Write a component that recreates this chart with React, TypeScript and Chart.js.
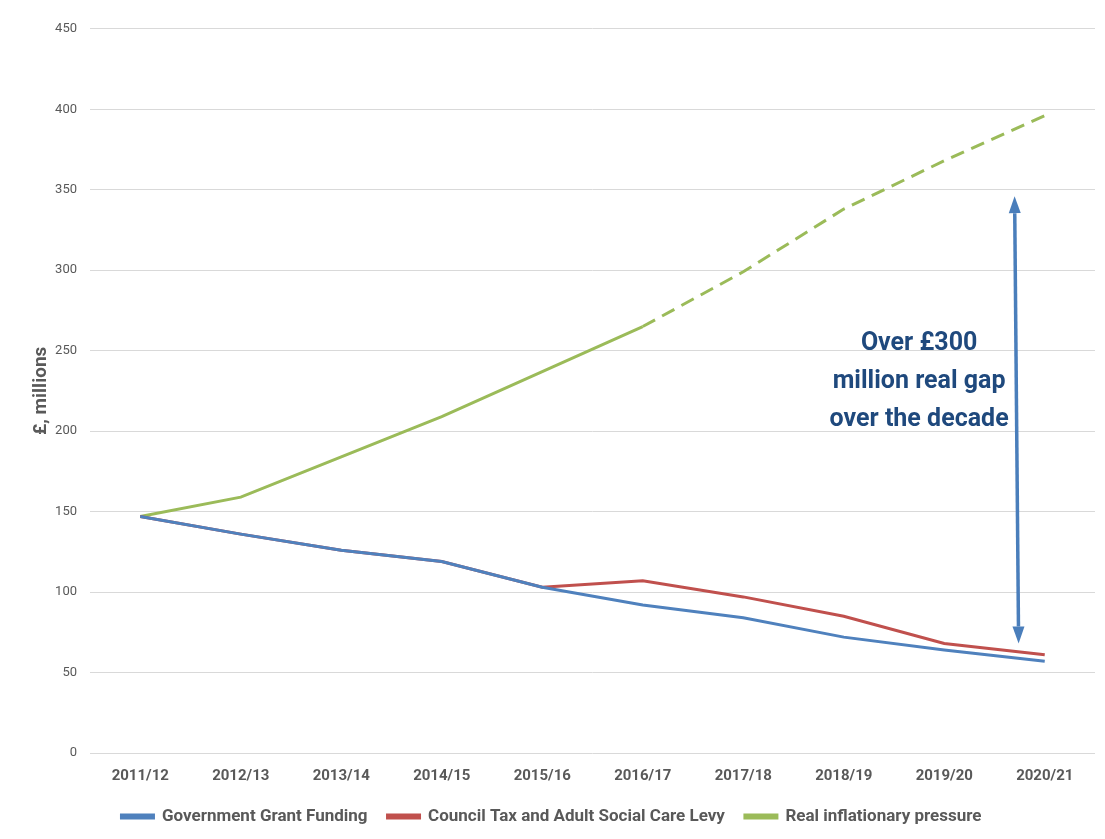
import React, { useEffect, useRef } from "react";
import { Chart, registerables } from "chart.js";

Chart.register(...registerables);

const categories = ["2011/12", "2012/13", "2013/14", "2014/15", "2015/16", "2016/17", "2017/18", "2018/19", "2019/20", "2020/21"];
const grantFunding = [147, 136, 126, 119, 103, 92, 84, 72, 64, 57];
const councilTax = [147, 136, 126, 119, 103, 107, 97, 85, 68, 61];
const inflationPressure = [147, 159, 184, 209, 237, 265, 299, 338, 368, 396];
const dashedFromIndex = 5;
const yTicks = [0, 50, 100, 150, 200, 250, 300, 350, 400, 450];
const arrowTop = { index: 8.7, value: 346 };
const arrowBottom = { index: 8.74, value: 68 };
const noteLines = ["Over £300", "million real gap", "over the decade"];
const notePos = { index: 7.75, value: 254 };

const FONT = "'Liberation Sans Narrow', 'Roboto', sans-serif";
const GREY = "#595959";

const overlayPlugin = {
  id: "overlay",
  afterDatasetsDraw(chart: any) {
    const { ctx, scales } = chart;
    const x = scales.x, y = scales.y;
    const x1 = x.getPixelForValue(arrowTop.index), y1 = y.getPixelForValue(arrowTop.value);
    const x2 = x.getPixelForValue(arrowBottom.index), y2 = y.getPixelForValue(arrowBottom.value);
    const ang = Math.atan2(y2 - y1, x2 - x1);
    const headL = 17, headW = 6;
    ctx.save();
    ctx.strokeStyle = "#4A7EBB";
    ctx.fillStyle = "#4A7EBB";
    ctx.lineWidth = 3.5;
    ctx.beginPath();
    ctx.moveTo(x1 + Math.cos(ang) * headL, y1 + Math.sin(ang) * headL);
    ctx.lineTo(x2 - Math.cos(ang) * headL, y2 - Math.sin(ang) * headL);
    ctx.stroke();
    const head = (tx: number, ty: number, a: number) => {
      ctx.beginPath();
      ctx.moveTo(tx, ty);
      const bx = tx - Math.cos(a) * headL, by = ty - Math.sin(a) * headL;
      ctx.lineTo(bx + Math.cos(a + Math.PI / 2) * headW, by + Math.sin(a + Math.PI / 2) * headW);
      ctx.lineTo(bx - Math.cos(a + Math.PI / 2) * headW, by - Math.sin(a + Math.PI / 2) * headW);
      ctx.closePath();
      ctx.fill();
    };
    head(x1, y1, ang + Math.PI);
    head(x2, y2, ang);
    const tx = x.getPixelForValue(notePos.index), ty = y.getPixelForValue(notePos.value);
    ctx.fillStyle = "#1F497D";
    ctx.font = `bold 25px ${FONT}`;
    ctx.textAlign = "center";
    ctx.textBaseline = "middle";
    noteLines.forEach((l, i) => ctx.fillText(l, tx, ty + i * 38));
    ctx.restore();
  },
};

export default function App() {
  const ref = useRef<HTMLCanvasElement | null>(null);
  useEffect(() => {
    if (!ref.current) return;
    const chart = new Chart(ref.current, {
      type: "line",
      data: {
        labels: categories,
        datasets: [
          { label: "Government Grant Funding", data: grantFunding, borderColor: "#4F81BD", backgroundColor: "#4F81BD", borderWidth: 3, pointRadius: 0, tension: 0 },
          { label: "Council Tax and Adult Social Care Levy", data: councilTax, borderColor: "#C0504D", backgroundColor: "#C0504D", borderWidth: 3, pointRadius: 0, tension: 0 },
          {
            label: "Real inflationary pressure", data: inflationPressure, borderColor: "#9BBB59", backgroundColor: "#9BBB59", borderWidth: 3, pointRadius: 0, tension: 0,
            segment: { borderDash: (c: any) => (c.p0DataIndex >= dashedFromIndex ? [14, 8] : undefined) },
          },
        ],
      },
      options: {
        animation: false,
        responsive: true,
        maintainAspectRatio: false,
        layout: { padding: { top: 19, right: 2, left: 0, bottom: 4 } },
        plugins: {
          tooltip: { enabled: false },
          legend: {
            position: "bottom",
            labels: {
              boxWidth: 32,
              boxHeight: 3,
              padding: 20,
              color: GREY,
              font: { family: FONT, size: 17, weight: "bold" },
            },
          },
        },
        scales: {
          x: {
            offset: true,
            grid: { display: false, drawTicks: false },
            border: { display: false },
            ticks: { color: GREY, padding: 14, font: { family: FONT, size: 15, weight: "bold" }, maxRotation: 0 },
            afterFit: (s: any) => { s.height = 35; },
          },
          y: {
            min: 0,
            max: 450,
            afterBuildTicks: (s: any) => { s.ticks = yTicks.map((v) => ({ value: v })); },
            grid: { color: "#D9D9D9", lineWidth: 1, drawTicks: false },
            border: { display: false },
            ticks: { color: GREY, padding: 13, font: { family: FONT, size: 13 } },
            title: { display: true, text: "£, millions", color: GREY, font: { family: FONT, size: 19, weight: "bold" }, padding: { top: 22, bottom: 0 } },
            afterFit: (s: any) => { s.width = 82; },
          },
        },
      },
      plugins: [overlayPlugin],
    });
    return () => chart.destroy();
  }, []);
  return (
    <div style={{ width: 1089, height: 831, borderLeft: "1px solid #D0D0D0", borderTop: "1px solid #D0D0D0", position: "relative", marginLeft: -1, marginTop: -1 }}>
      <canvas ref={ref} />
    </div>
  );
}
